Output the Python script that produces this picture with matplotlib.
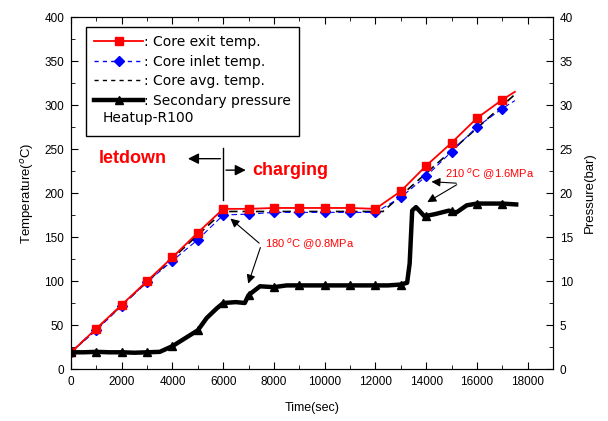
import numpy as np
import matplotlib
matplotlib.use('Agg')
import matplotlib.pyplot as plt
from matplotlib.lines import Line2D

plt.rcParams['font.family'] = ['Liberation Sans', 'DejaVu Sans']

# temperatures (deg C) sampled every 1000 s
t_temp = [0, 1000, 2000, 3000, 4000, 5000, 6000, 7000, 8000, 9000, 10000,
          11000, 12000, 13000, 14000, 15000, 16000, 17000, 17500]
exit_temp = [19, 46, 73, 100, 127, 155, 182, 182, 183, 183, 183,
             183, 182, 202, 231, 257, 285, 306, 315]
inlet_temp = [19, 44, 72, 99, 123, 147, 175, 176, 178, 178, 178,
              178, 178, 195, 219, 247, 275, 296, 305]
t_avg = [0, 6000, 12300, 17500]
avg_temp = [19, 179, 179, 312]

# secondary pressure (bar)
t_p = [0, 500, 1000, 1500, 2000, 2500, 3000, 3500, 4000, 4500, 5000, 5350,
       5750, 6000, 6500, 6850, 7000, 7450, 8000, 8500, 9000, 9500, 10000,
       10500, 11000, 11500, 12000, 12500, 13000, 13250, 13350, 13450, 13600,
       13950, 14000, 14350, 14900, 15000, 15200, 15600, 16000, 16500, 17000,
       17550]
pres = [1.9, 1.9, 1.95, 1.9, 1.9, 1.85, 1.9, 1.95, 2.6, 3.5, 4.4, 5.8,
        6.9, 7.5, 7.6, 7.5, 8.4, 9.4, 9.3, 9.5, 9.5, 9.5, 9.5,
        9.5, 9.5, 9.5, 9.5, 9.5, 9.6, 9.8, 12.0, 18.0, 18.4,
        17.3, 17.4, 17.6, 18.0, 17.9, 17.8, 18.6, 18.8, 18.8, 18.8,
        18.7]

fig = plt.figure(figsize=(6.08, 4.21), dpi=100)
ax = fig.add_axes([0.1168, 0.1235, 0.7927, 0.8361])
ax2 = ax.twinx()

ax.plot(t_avg, avg_temp, color='black', ls=(0, (5, 3)), lw=1.2, zorder=3)
ax.plot(t_temp, inlet_temp, color='blue', ls=(0, (5, 3)), lw=0.8,
        marker='D', ms=5, markevery=list(range(18)), zorder=4)
ax.plot(t_temp, exit_temp, color='red', lw=1.3, marker='s', ms=6,
        markevery=list(range(18)), zorder=5)

p_marks = [i for i, t in enumerate(t_p) if t % 1000 == 0]
ax2.plot(t_p, pres, color='black', lw=3.2, marker='^', ms=6,
         markevery=p_marks, solid_joinstyle='round')

ax.set_xlim(0, 19000)
ax.set_ylim(0, 400)
ax2.set_ylim(0, 40)
ax.set_xticks(np.arange(0, 18001, 2000))
ax.set_xticks(np.arange(0, 19001, 1000), minor=True)
ax.set_yticks(np.arange(0, 401, 50))
ax.set_yticks(np.arange(0, 401, 25), minor=True)
ax2.set_yticks(np.arange(0, 41, 5))
ax2.set_yticks(np.arange(0, 41, 2.5), minor=True)

ax.tick_params(which='both', direction='in', top=True, labelsize=8.5,
               pad=5)
ax.tick_params(which='major', length=5)
ax.tick_params(which='minor', length=3)
ax2.tick_params(which='both', direction='in', labelsize=8.5, pad=5)
ax2.tick_params(which='major', length=5)
ax2.tick_params(which='minor', length=3)

ax.set_xlabel('Time(sec)', fontsize=9, labelpad=10)
ax.set_ylabel('Temperature($^o$C)', fontsize=9.5, labelpad=6)
ax2.set_ylabel('Pressure(bar)', fontsize=9.5, labelpad=8)

# annotations
ax.plot([6000, 6000], [192, 251], color='black', lw=1)
ax.annotate('', xy=(4500, 239), xytext=(6000, 239),
            arrowprops=dict(arrowstyle='-|>', color='black', lw=1,
                            mutation_scale=16))
ax.annotate('', xy=(7000, 226), xytext=(6000, 226),
            arrowprops=dict(arrowstyle='-|>', color='black', lw=1,
                            mutation_scale=16))
ax.text(1100, 239, 'letdown', color='red', fontsize=13, fontweight='bold',
        va='center', ha='left')
ax.text(7150, 226, 'charging', color='red', fontsize=13, fontweight='bold',
        va='center', ha='left')

ax.text(7650, 142, '180 $^o$C @0.8MPa', color='red', fontsize=8,
        va='center', ha='left')
ax.annotate('', xy=(6200, 173), xytext=(7500, 141),
            arrowprops=dict(arrowstyle='-|>', color='black', lw=0.8,
                            mutation_scale=13))
ax.annotate('', xy=(6950, 94), xytext=(7500, 141),
            arrowprops=dict(arrowstyle='-|>', color='black', lw=0.8,
                            mutation_scale=13))

ax.text(14750, 222, '210 $^o$C @1.6MPa', color='red', fontsize=8,
        va='center', ha='left')
ax.annotate('', xy=(14100, 213), xytext=(15300, 211),
            arrowprops=dict(arrowstyle='-|>', color='black', lw=0.8,
                            mutation_scale=13))
ax.annotate('', xy=(13950, 188), xytext=(15300, 211),
            arrowprops=dict(arrowstyle='-|>', color='black', lw=0.8,
                            mutation_scale=13))

# legend
handles = [
    Line2D([], [], color='red', lw=1.3, marker='s', ms=6),
    Line2D([], [], color='blue', ls=(0, (3, 3)), lw=1, marker='D', ms=5),
    Line2D([], [], color='black', ls=(0, (3, 3)), lw=1),
    Line2D([], [], color='black', lw=3.2, marker='^', ms=6),
    Line2D([], [], ls='none'),
]
labels = [': Core exit temp.', ': Core inlet temp.', ': Core avg. temp.',
          ': Secondary pressure', ' ']
leg = ax2.legend(handles, labels, loc='upper left',
                 bbox_to_anchor=(0.031, 0.972), frameon=True, fancybox=False,
                 edgecolor='black', framealpha=1,
                 handlelength=3.5, handletextpad=0.1, labelspacing=0.4,
                 borderpad=0.6, borderaxespad=0,
                 prop={'family': 'DejaVu Sans', 'size': 10})
leg.get_frame().set_linewidth(1)
ax2.text(0.066, 0.713, 'Heatup-R100', transform=ax2.transAxes,
         fontsize=10, family='DejaVu Sans', va='center', ha='left',
         zorder=10)

fig.savefig('out.png', dpi=100)
